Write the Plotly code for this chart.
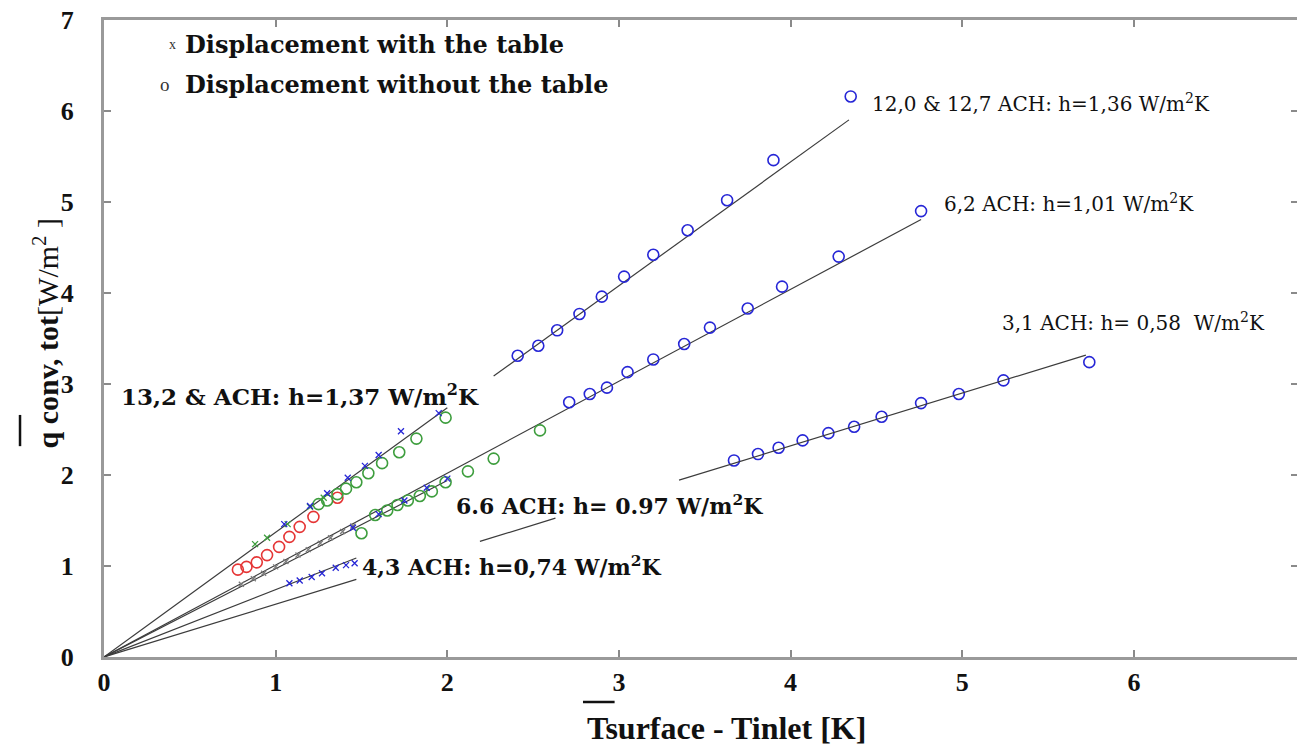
import plotly.graph_objects as go

# ---------------- data ----------------
# blue open circles, displacement without the table
q12_x = [2.41, 2.53, 2.64, 2.77, 2.90, 3.03, 3.20, 3.40, 3.63, 3.90, 4.35]
q12_y = [3.31, 3.42, 3.59, 3.77, 3.96, 4.18, 4.42, 4.69, 5.02, 5.46, 6.16]

q62_x = [2.71, 2.83, 2.93, 3.05, 3.20, 3.38, 3.53, 3.75, 3.95, 4.28, 4.76]
q62_y = [2.80, 2.89, 2.96, 3.13, 3.27, 3.44, 3.62, 3.83, 4.07, 4.40, 4.90]

q31_x = [3.67, 3.81, 3.93, 4.07, 4.22, 4.37, 4.53, 4.76, 4.98, 5.24, 5.74]
q31_y = [2.16, 2.23, 2.30, 2.38, 2.46, 2.53, 2.64, 2.79, 2.89, 3.04, 3.24]

# red open circles
red_x = [0.78, 0.83, 0.89, 0.95, 1.02, 1.08, 1.14, 1.22, 1.36]
red_y = [0.96, 0.99, 1.04, 1.12, 1.21, 1.32, 1.43, 1.54, 1.75]

# green open circles (two groups)
grn_hi_x = [1.25, 1.30, 1.36, 1.41, 1.47, 1.54, 1.62, 1.72, 1.82, 1.99]
grn_hi_y = [1.68, 1.72, 1.79, 1.85, 1.92, 2.02, 2.13, 2.25, 2.40, 2.63]
grn_lo_x = [1.50, 1.58, 1.65, 1.71, 1.77, 1.84, 1.91, 1.99, 2.12, 2.27, 2.54]
grn_lo_y = [1.36, 1.56, 1.61, 1.67, 1.72, 1.77, 1.82, 1.92, 2.04, 2.18, 2.49]

# crosses, displacement with the table
bx_hi_x = [1.05, 1.20, 1.30, 1.42, 1.52, 1.60, 1.73, 1.95]
bx_hi_y = [1.46, 1.66, 1.80, 1.97, 2.10, 2.22, 2.48, 2.68]
bx_mid_x = [1.45, 1.60, 1.75, 1.88, 2.00]
bx_mid_y = [1.42, 1.57, 1.72, 1.86, 1.96]
bx_lo_x = [1.08, 1.14, 1.21, 1.27, 1.35, 1.41, 1.46]
bx_lo_y = [0.81, 0.84, 0.88, 0.92, 0.98, 1.01, 1.03]
gx_x = [0.88, 0.95, 1.07, 1.20, 1.28]
gx_y = [1.24, 1.31, 1.46, 1.65, 1.75]
kx_x = [0.80, 0.87, 0.93, 1.00, 1.06, 1.13, 1.19, 1.26, 1.32, 1.39, 1.45]
kx_y = [0.80, 0.86, 0.92, 0.99, 1.05, 1.12, 1.18, 1.25, 1.31, 1.38, 1.44]

# fitted lines q = h * dT, drawn over the visible dT spans
fit_h = [1.37, 1.36, 1.01, 0.97, 0.74, 0.58, 0.58, 0.58]
fit_x0 = [0.0, 2.27, 0.0, 0.0, 0.0, 0.0, 2.19, 3.35]
fit_x1 = [2.00, 4.34, 4.76, 2.00, 1.47, 1.47, 2.63, 5.72]

x_ticks = [0, 1, 2, 3, 4, 5, 6]
y_ticks = [0, 1, 2, 3, 4, 5, 6, 7]

SERIF = "Liberation Serif"
WIDE = "DejaVu Serif"
BLUE = "#2626d6"
GREEN = "#3e9e3e"
RED = "#e53535"

fig = go.Figure()

# fit lines
for h, a, b in zip(fit_h, fit_x0, fit_x1):
    fig.add_trace(go.Scatter(
        x=[a, b], y=[h * a, h * b], mode="lines",
        line=dict(color="#3c3c3c", width=1.2),
        yaxis="y2" if h == 0.58 else "y",
        hoverinfo="skip", showlegend=False))


def circles(x, y, color):
    fig.add_trace(go.Scatter(
        x=x, y=y, mode="markers", showlegend=False,
        marker=dict(symbol="circle-open", size=11, color=color,
                    line=dict(width=1.6, color=color))))


def crosses(x, y, color, size=6):
    fig.add_trace(go.Scatter(
        x=x, y=y, mode="markers", showlegend=False,
        marker=dict(symbol="x-thin-open", size=size, color=color,
                    line=dict(width=1.3, color=color))))


crosses(kx_x, kx_y, "#7a7a7a", 5)
circles(q12_x, q12_y, BLUE)
circles(q62_x, q62_y, BLUE)
circles(q31_x, q31_y, BLUE)
circles(red_x, red_y, RED)
circles(grn_hi_x, grn_hi_y, GREEN)
circles(grn_lo_x, grn_lo_y, GREEN)
crosses(gx_x, gx_y, GREEN)
crosses(bx_hi_x, bx_hi_y, BLUE)
crosses(bx_mid_x, bx_mid_y, BLUE)
crosses(bx_lo_x, bx_lo_y, BLUE)

# ---------------- text ----------------
ann = []


def label(x, y, text, size, bold):
    ann.append(dict(x=x, y=y, xref="x", yref="y", text=text, showarrow=False,
                    xanchor="left", yanchor="middle",
                    font=dict(family=WIDE, size=size, color="#111",
                              weight="bold" if bold else "normal")))


W = "W/m<sup>2</sup>K"
label(4.46, 6.09, "12,0 &amp; 12,7 ACH: h=1,36 " + W, 20, False)
label(4.88, 4.99, "6,2 ACH: h=1,01 " + W, 20, False)
label(5.22, 3.68, "3,1 ACH: h= 0,58  " + W, 20, False)
label(0.09, 2.88, "13,2 &amp; ACH: h=1,37 " + W, 23, True)
label(2.04, 1.67, "6.6 ACH: h= 0.97 " + W, 22, True)
label(1.49, 1.00, "4,3 ACH: h=0,74 " + W, 22, True)

# legend block
for gx, gy, glyph, gs, txt in [(0.0578, 0.962, "x", 14, "Displacement with the table"),
                               (0.0511, 0.898, "o", 19, "Displacement without the table")]:
    ann.append(dict(x=gx, y=gy, xref="paper", yref="paper", text=glyph,
                    showarrow=False, xanchor="center", yanchor="middle",
                    font=dict(family=SERIF, size=gs, color="#333")))
    ann.append(dict(x=0.0662, y=gy, xref="paper", yref="paper", text=txt,
                    showarrow=False, xanchor="left", yanchor="middle",
                    font=dict(family=WIDE, size=24, color="#111", weight="bold")))

# axis titles
ann.append(dict(x=0.4032, y=-0.112, xref="paper", yref="paper",
                text="Tsurface - Tinlet [K]", showarrow=False,
                xanchor="left", yanchor="middle",
                font=dict(family=SERIF, size=32, color="#111", weight="bold")))
ann.append(dict(x=-0.0486, y=0.508, xref="paper", yref="paper", textangle=-90,
                text="<b>q conv, tot</b>[W/m<sup>2</sup> ]", showarrow=False,
                xanchor="center", yanchor="middle",
                font=dict(family=SERIF, size=30, color="#111")))

shapes = [
    # overbars of the averaged quantities
    dict(type="line", xref="paper", yref="paper", x0=0.4015, x1=0.428,
         y0=-0.0705, y1=-0.0705, line=dict(color="#111", width=2.5)),
    dict(type="line", xref="paper", yref="paper", x0=-0.0704, x1=-0.0704,
         y0=0.331, y1=0.380, line=dict(color="#111", width=2.5)),
]

tickfont = dict(family=SERIF, size=26, color="#111", weight="bold")

fig.update_layout(
    width=1297, height=747, autosize=False,
    margin=dict(l=104, r=0, t=20, b=90),
    paper_bgcolor="white", plot_bgcolor="white",
    showlegend=False,
    annotations=ann, shapes=shapes,
    xaxis=dict(range=[0, 6.95], tickvals=x_ticks, ticks="inside", ticklen=7,
               tickwidth=1.5, tickcolor="#8a8a8a", showline=True,
               linecolor="#9a9a9a", linewidth=3, mirror="ticks",
               showgrid=False, zeroline=False, tickfont=tickfont,
               ticklabelstandoff=0),
    yaxis=dict(range=[0, 7], tickvals=y_ticks, ticks="inside", ticklen=7,
               tickwidth=1.5, tickcolor="#8a8a8a", showline=True,
               linecolor="#9a9a9a", linewidth=3, showgrid=False,
               zeroline=False, tickfont=tickfont, ticklabelstandoff=22),
    yaxis2=dict(range=[0, 7], tickvals=y_ticks, overlaying="y", side="right",
                ticks="inside", ticklen=6, tickwidth=1.5, tickcolor="#8a8a8a",
                showline=False, showgrid=False, zeroline=False,
                showticklabels=False),
)

fig.write_html("out.html")
